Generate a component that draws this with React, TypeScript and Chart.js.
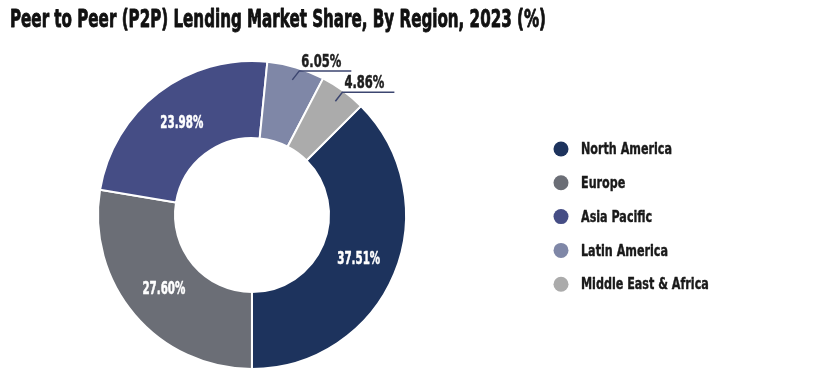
import React, { useEffect, useRef } from 'react';
import { Chart, registerables } from 'chart.js';

Chart.register(...registerables);

const TITLE = 'Peer to Peer (P2P) Lending Market Share, By Region, 2023 (%)';
const regions = ['North America', 'Europe', 'Asia Pacific', 'Latin America', 'Middle East & Africa'];
const shares = [37.51, 27.6, 23.98, 6.05, 4.86];
const colors = ['#1d335d', '#6b6e76', '#454d85', '#7f87a7', '#ababab'];

const FONT = "'DejaVu Sans Condensed', 'Liberation Sans Narrow', 'Roboto', sans-serif";

// draw text horizontally condensed by factor sx, anchored at x
function drawText(
  ctx: CanvasRenderingContext2D,
  text: string,
  x: number,
  y: number,
  sx: number,
  align: 'left' | 'center',
  stroke: number
) {
  const w = ctx.measureText(text).width * sx;
  const left = align === 'center' ? x - w / 2 : x;
  ctx.save();
  ctx.translate(left, y);
  ctx.scale(sx, 1);
  ctx.textAlign = 'left';
  ctx.fillText(text, 0, 0);
  if (stroke > 0) {
    ctx.strokeStyle = ctx.fillStyle as string;
    ctx.lineWidth = stroke;
    ctx.lineJoin = 'round';
    ctx.strokeText(text, 0, 0);
  }
  ctx.restore();
}

const overlay = {
  id: 'overlay',
  afterDraw(chart: any) {
    const ctx = chart.ctx as CanvasRenderingContext2D;
    const meta = chart.getDatasetMeta(0);
    ctx.save();
    // title
    ctx.fillStyle = '#111111';
    ctx.font = `bold 24px ${FONT}`;
    ctx.textBaseline = 'middle';
    const tsx = 536 / ctx.measureText(TITLE).width;
    drawText(ctx, TITLE, 10, 21, tsx, 'left', 0.8);

    ctx.font = `bold 17px ${FONT}`;
    const isx = 43 / ctx.measureText('37.51%').width;
    const osx = 40 / ctx.measureText('6.05%').width;

    meta.data.forEach((arc: any, i: number) => {
      const p = arc.getProps(['x', 'y', 'startAngle', 'endAngle', 'innerRadius', 'outerRadius'], true);
      const mid = (p.startAngle + p.endAngle) / 2;
      const label = shares[i].toFixed(2) + '%';
      ctx.font = `bold 17px ${FONT}`;
      if (shares[i] > 10) {
        const r = (p.innerRadius + p.outerRadius) / 2;
        ctx.fillStyle = '#ffffff';
        ctx.textBaseline = 'middle';
        drawText(ctx, label, p.x + Math.cos(mid) * r, p.y + Math.sin(mid) * r, isx, 'center', 0.5);
      } else {
        const r0 = p.outerRadius - 13;
        const x0 = p.x + Math.cos(mid) * r0;
        const y0 = p.y + Math.sin(mid) * r0;
        const x1 = x0 + 7;
        const y1 = y0 - 9;
        const x2 = x1 + 52;
        ctx.strokeStyle = '#3c4670';
        ctx.lineWidth = 1.5;
        ctx.beginPath();
        ctx.moveTo(x0, y0);
        ctx.lineTo(x1, y1);
        ctx.lineTo(x2, y1);
        ctx.stroke();
        ctx.fillStyle = '#1e1e1e';
        ctx.textBaseline = 'alphabetic';
        drawText(ctx, label, x1 + 2, y1 - 4, osx, 'left', 0.5);
      }
    });

    // legend
    ctx.font = `bold 16px ${FONT}`;
    const lsx = 91 / ctx.measureText('North America').width;
    regions.forEach((name, i) => {
      const cy = 149 + i * 33.8;
      ctx.beginPath();
      ctx.arc(561, cy, 7.5, 0, Math.PI * 2);
      ctx.fillStyle = colors[i];
      ctx.fill();
      ctx.fillStyle = '#1a1a1a';
      ctx.font = `bold 16px ${FONT}`;
      ctx.textBaseline = 'middle';
      drawText(ctx, name, 581, cy + 1, lsx, 'left', 0.4);
    });
    ctx.restore();
  },
};

export default function App() {
  const ref = useRef<HTMLCanvasElement | null>(null);
  useEffect(() => {
    if (!ref.current) return;
    const chart = new Chart(ref.current, {
      type: 'doughnut',
      data: {
        labels: regions,
        datasets: [
          {
            data: shares,
            backgroundColor: colors,
            borderColor: '#ffffff',
            borderWidth: 2,
            hoverOffset: 0,
          },
        ],
      },
      options: {
        responsive: true,
        maintainAspectRatio: false,
        animation: false,
        rotation: 45,
        cutout: '50%',
        layout: { padding: { left: 97, right: 423, top: 60, bottom: 8 } },
        plugins: {
          legend: { display: false },
          title: { display: false },
          tooltip: { enabled: false },
        },
      },
      plugins: [overlay],
    });
    return () => chart.destroy();
  }, []);
  return (
    <div style={{ position: 'fixed', left: 0, top: 0, width: 830, height: 378, background: '#ffffff' }}>
      <canvas ref={ref} />
    </div>
  );
}
